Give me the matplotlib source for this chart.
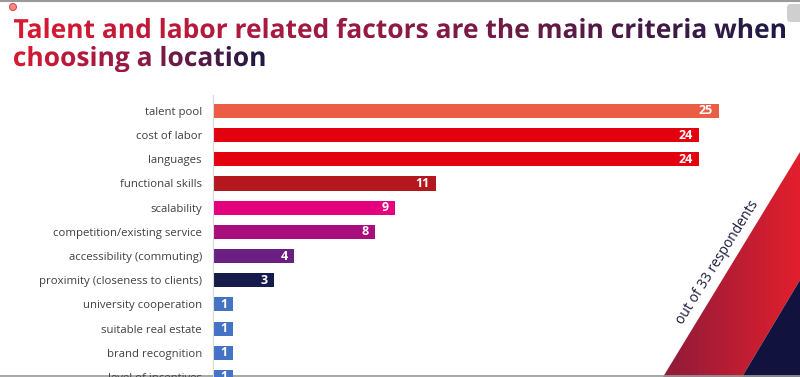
import matplotlib
matplotlib.use('Agg')
import matplotlib.pyplot as plt
import numpy as np
from matplotlib.patches import Polygon, PathPatch, FancyBboxPatch, Circle
from matplotlib.textpath import TextPath
from matplotlib.font_manager import FontProperties
from matplotlib.transforms import Affine2D
from matplotlib.colors import LinearSegmentedColormap

# data
factors = ['talent pool', 'cost of labor', 'languages', 'functional skills', 'scalability',
           'competition/existing service', 'accessibility (commuting)',
           'proximity (closeness to clients)', 'university cooperation',
           'suitable real estate', 'brand recognition', 'level of incentives']
counts = [25, 24, 24, 11, 9, 8, 4, 3, 1, 1, 1, 1]
bar_colors = ['#EB5E45', '#E3000F', '#E3000F', '#B5171E', '#E5007D', '#A80E7C',
              '#6B1F80', '#161B4B', '#4472C4', '#4472C4', '#4472C4', '#4472C4']
title_lines = ['Talent and labor related factors are the main criteria when',
               'choosing a location']
note = 'out of 33 respondents'

W, H = 800, 377
fig = plt.figure(figsize=(W / 100, H / 100), dpi=100)

# background layer in pixel coords
bg = fig.add_axes([0, 0, 1, 1])
bg.axis('off')

# diagonal red band + navy corner
band = Polygon([(663, H), (800, 152), (800, 280), (742, H)], closed=True,
               facecolor='none', edgecolor='none')
bg.add_patch(band)
grad = np.linspace(0, 1, 256).reshape(1, -1)
cm_band = LinearSegmentedColormap.from_list('band', ['#8E1B3A', '#E21F2D'])
im = bg.imshow(grad, cmap=cm_band, extent=(663, 800, H, 152), aspect='auto')
im.set_clip_path(band)
bg.add_patch(Polygon([(742, H), (800, 280), (800, H)], facecolor='#12123F', edgecolor='none'))

bg.text(718, 262, note, rotation=58, ha='center', va='center', fontsize=10,
        color='#1B1A3C', family='Open Sans', rotation_mode='anchor')

# gradient title
fp = FontProperties(family='Open Sans', weight='bold')
cm_title = LinearSegmentedColormap.from_list('title', ['#D91B32', '#8E1A46', '#1D1A45'])
probe = TextPath((0, 0), title_lines[0], size=25, prop=fp).get_extents()
size = 25 * 771 / probe.width
title_x = 14
for line, base in zip(title_lines, [38, 66]):
    tp = TextPath((0, 0), line, size=size, prop=fp)
    ext = tp.get_extents()
    path = Affine2D().scale(1, -1).translate(title_x - ext.x0, base).transform_path(tp)
    pe = path.get_extents()
    clip = PathPatch(path, facecolor='none', edgecolor='none')
    bg.add_patch(clip)
    tim = bg.imshow(grad, cmap=cm_title, extent=(pe.x0, pe.x1, pe.y1, pe.y0), aspect='auto')
    tim.set_clip_path(clip)

# screenshot bits
bg.plot([0, W], [0.6, 0.6], color='#9A9A9A', lw=1.5)
bg.plot([0, W], [375.5, 375.5], color='#9A9A9A', lw=1.2)
bg.add_patch(Circle((13, 7), 3.5, facecolor='#F28B82', edgecolor='#E0504A', lw=0.8))
bg.add_patch(FancyBboxPatch((787, 4), 20, 18, boxstyle='round,pad=0,rounding_size=4',
                            facecolor='#CFCFCF', edgecolor='none'))
bg.set_xlim(0, W)
bg.set_ylim(H, 0)

# bar chart
x0, top, px_unit, row = 213, 95, 20.24, 24.3
ax = fig.add_axes([x0 / W, 0, (W - x0) / W, (H - top) / H])
ax.patch.set_alpha(0)
y = np.arange(len(factors))
ax.barh(y, counts, height=0.58, color=bar_colors)
ax.set_xlim(0, (W - x0) / px_unit)
ax.set_ylim((H - 111) / row, -(111 - top) / row)
for s in ['top', 'right', 'bottom']:
    ax.spines[s].set_visible(False)
ax.spines['left'].set_color('#D9D9D9')
ax.set_xticks([])
ax.set_yticks(y, factors)
ax.tick_params(axis='y', length=0, pad=8, labelsize=8.2, labelcolor='#404040')
for lab in ax.get_yticklabels():
    lab.set_family('Open Sans')
for i, c in enumerate(counts):
    ax.text(c - 0.3, i, str(c), ha='right', va='center', color='white',
            fontweight='bold', fontsize=9, family='Open Sans')

fig.savefig('out.png', dpi=100)
